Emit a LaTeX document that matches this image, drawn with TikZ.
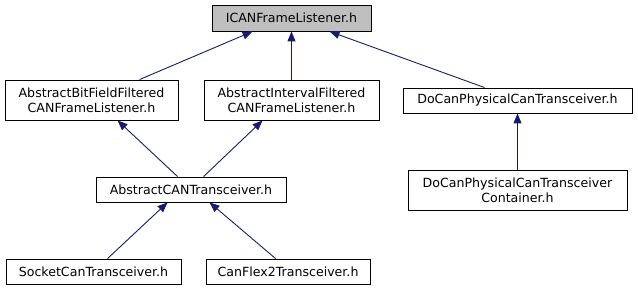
\documentclass[tikz,border=0pt]{standalone}
\usepackage{fontspec}
\setmainfont{DejaVu Sans}
\usetikzlibrary{arrows.meta}
\definecolor{edgeblue}{HTML}{191970}
\definecolor{rootgray}{HTML}{BFBFBF}
\begin{document}
\begin{tikzpicture}[x=1pt,y=-1pt,
  file/.style={draw=black, line width=0.9pt, fill=white, inner sep=0pt,
    align=center, font=\fontsize{12.6}{15}\selectfont},
  dep/.style={draw=edgeblue, line width=0.9pt,
    -{Triangle[length=10pt,width=8pt]}}]
\useasboundingbox (0,0) rectangle (638,291);
% header files
\node[file, fill=rootgray, minimum width=159pt, minimum height=26pt] (ican) at (291.5,18) {ICANFrameListener.h};
\node[file, minimum width=173pt, minimum height=40pt] (bit) at (91.5,100) {AbstractBitFieldFiltered\\CANFrameListener.h};
\node[file, minimum width=175pt, minimum height=40pt] (intv) at (291.5,100) {AbstractIntervalFiltered\\CANFrameListener.h};
\node[file, minimum width=229pt, minimum height=25pt] (docan) at (517.5,100.5) {DoCanPhysicalCanTransceiver.h};
\node[file, minimum width=219pt, minimum height=40pt] (cont) at (517.5,190) {DoCanPhysicalCanTransceiver\\Container.h};
\node[file, minimum width=190pt, minimum height=25pt] (act) at (191,189.5) {AbstractCANTransceiver.h};
\node[file, minimum width=175pt, minimum height=25pt] (sock) at (93.5,271.5) {SocketCanTransceiver.h};
\node[file, minimum width=164pt, minimum height=25pt] (flex) at (288,271.5) {CanFlex2Transceiver.h};
% include relations
\draw[dep] ([xshift=135pt]bit.north west) -- ([xshift=41pt]ican.south west);
\draw[dep] (intv.north) -- (ican.south);
\draw[dep] ([xshift=82pt]docan.north west) -- ([xshift=118pt]ican.south west);
\draw[dep] ([xshift=82pt]act.north west) -- ([xshift=113pt]bit.south west);
\draw[dep] ([xshift=108pt]act.north west) -- ([xshift=59pt]intv.south west);
\draw[dep] ([xshift=102pt]sock.north west) -- ([xshift=72pt]act.south west);
\draw[dep] ([xshift=70pt]flex.north west) -- ([xshift=114pt]act.south west);
\draw[dep] (cont.north) -- (docan.south);
\end{tikzpicture}
\end{document}
